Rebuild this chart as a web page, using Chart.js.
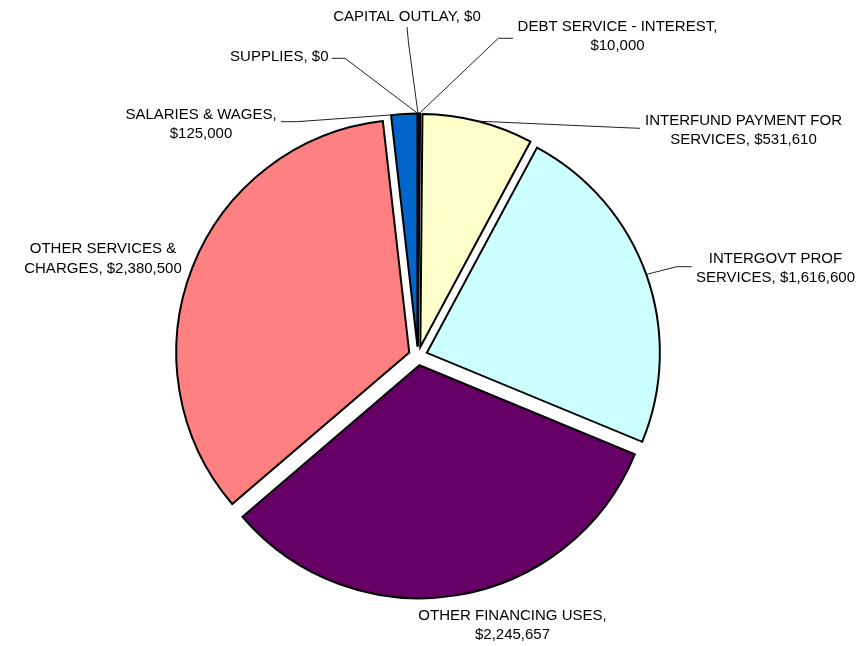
<!DOCTYPE html>
<html>
<head>
<meta charset="utf-8">
<script src="https://cdn.jsdelivr.net/npm/chart.js@4/dist/chart.umd.min.js"></script>
<style>
html,body{margin:0;padding:0;background:#fff;}
#wrap{width:865px;height:646px;}
</style>
</head>
<body>
<div id="wrap"><canvas id="c" width="865" height="646"></canvas></div>
<script>
// ---- data ----
const categories = [
  "CAPITAL OUTLAY",
  "DEBT SERVICE - INTEREST",
  "INTERFUND PAYMENT FOR SERVICES",
  "INTERGOVT PROF SERVICES",
  "OTHER FINANCING USES",
  "OTHER SERVICES & CHARGES",
  "SALARIES & WAGES",
  "SUPPLIES"
];
const amounts = [0, 10000, 531610, 1616600, 2245657, 2380500, 125000, 0];
const sliceColors = ["#9999FF", "#993366", "#FFFFCC", "#CCFFFF", "#660066", "#FF8080", "#0066CC", "#CCCCFF"];

// ---- label layout (annotation placement) ----
// words on first line, text anchor, alignment, leader path points near the text
const labelLayout = [
  {brk: 0, x: 407,   y: 20.7,  align: "center", leader: [[407, 27], [408.5, 43]]},
  {brk: 4, x: 617.5, y: 30.7,  align: "center", leader: [[513, 38.3], [498.3, 38.3]]},
  {brk: 3, x: 743.5, y: 125,   align: "center", leader: [[640, 128.3], [627, 127.8]]},
  {brk: 2, x: 775.5, y: 262.7, align: "center", leader: [[691.7, 266.7], [676.7, 266.7]]},
  {brk: 3, x: 512.5, y: 620,   align: "center", leader: null},
  {brk: 3, x: 103,   y: 253.3, align: "center", leader: null},
  {brk: 3, x: 201,   y: 119,   align: "center", leader: [[281, 121.7], [296.7, 121.7]]},
  {brk: 0, x: 328.5, y: 60.7,  align: "right",  leader: [[331.7, 58.3], [345, 58.3]]}
];
const EXPLODE = 9.4;
const LINE_H = 19.2;

function fmtMoney(v) {
  return "$" + v.toLocaleString("en-US");
}

const explodePlugin = {
  id: "explode",
  afterDatasetsUpdate(chart) {
    const ca = chart.chartArea;
    const cx = (ca.left + ca.right) / 2, cy = (ca.top + ca.bottom) / 2;
    chart.getDatasetMeta(0).data.forEach(arc => {
      const mid = (arc.startAngle + arc.endAngle) / 2;
      arc.x = cx + Math.cos(mid) * EXPLODE;
      arc.y = cy + Math.sin(mid) * EXPLODE;
    });
  }
};

const labelPlugin = {
  id: "pieLabels",
  afterDatasetsDraw(chart) {
    const ctx = chart.ctx;
    const meta = chart.getDatasetMeta(0);
    ctx.save();
    ctx.font = "15px 'Liberation Sans', Arial, sans-serif";
    ctx.fillStyle = "#000";
    ctx.textBaseline = "alphabetic";
    meta.data.forEach((arc, i) => {
      const lay = labelLayout[i];
      const words = (categories[i] + ", " + fmtMoney(amounts[i])).split(" ");
      const lines = lay.brk > 0 && lay.brk < words.length
        ? [words.slice(0, lay.brk).join(" "), words.slice(lay.brk).join(" ")]
        : [words.join(" ")];
      ctx.textAlign = lay.align;
      lines.forEach((ln, k) => ctx.fillText(ln, lay.x, lay.y + k * LINE_H));
      if (lay.leader) {
        const mid = (arc.startAngle + arc.endAngle) / 2;
        const px = arc.x + Math.cos(mid) * arc.outerRadius;
        const py = arc.y + Math.sin(mid) * arc.outerRadius;
        ctx.beginPath();
        ctx.strokeStyle = "#222";
        ctx.lineWidth = 1;
        ctx.moveTo(lay.leader[0][0], lay.leader[0][1]);
        for (let k = 1; k < lay.leader.length; k++) ctx.lineTo(lay.leader[k][0], lay.leader[k][1]);
        ctx.lineTo(px, py);
        ctx.stroke();
      }
    });
    ctx.restore();
  }
};

new Chart(document.getElementById("c"), {
  type: "pie",
  data: {
    labels: categories,
    datasets: [{
      data: amounts,
      backgroundColor: sliceColors,
      borderColor: "#000",
      borderWidth: 2,
      borderJoinStyle: "miter",
      radius: 233
    }]
  },
  options: {
    responsive: false,
    animation: false,
    events: [],
    layout: {padding: {left: 0, right: 29, top: 66, bottom: 0}},
    plugins: {legend: {display: false}, tooltip: {enabled: false}, title: {display: false}}
  },
  plugins: [explodePlugin, labelPlugin]
});
</script>
</body>
</html>
